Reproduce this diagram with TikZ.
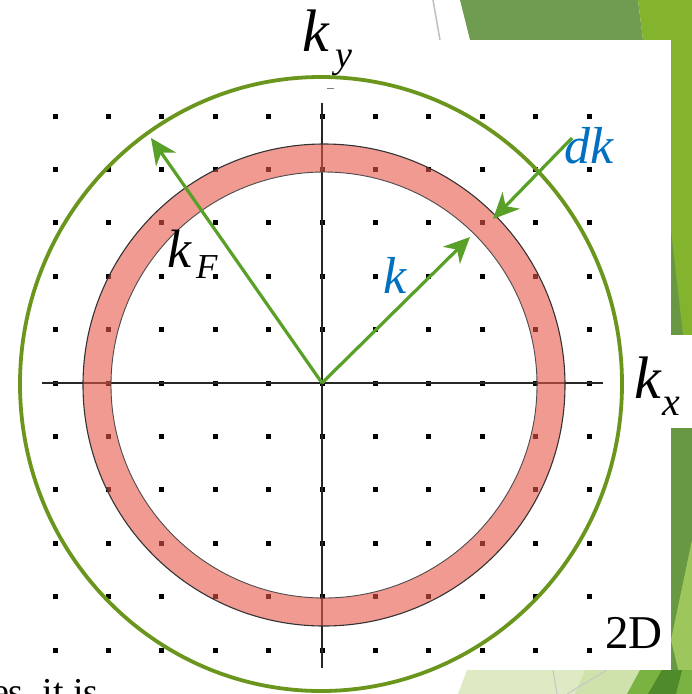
\documentclass[tikz,border=0pt]{standalone}
\usepackage{fontspec}
\setmainfont{Liberation Serif}
\usetikzlibrary{arrows.meta}
\definecolor{circG}{RGB}{106,150,30}
\definecolor{arrG}{RGB}{88,160,40}
\definecolor{blueT}{RGB}{0,112,192}
\definecolor{ringR}{RGB}{230,88,72}
\definecolor{bgDark}{RGB}{112,156,82}
\definecolor{bgLight}{RGB}{132,180,46}
\definecolor{bgDark2}{RGB}{104,152,68}
\definecolor{bgMid}{RGB}{157,198,92}
\definecolor{bgPale}{RGB}{221,234,196}
\definecolor{bgPale2}{RGB}{208,226,172}
\definecolor{bgBright}{RGB}{122,179,66}
\definecolor{bgDeep}{RGB}{79,138,43}
\begin{document}
\begin{tikzpicture}[x=1pt,y=-1pt,
  lbl/.style={inner sep=0pt, outer sep=0pt, anchor=base west},
  arr/.style={draw=arrG, line width=3.2pt, -{Stealth[length=26pt,width=24pt,inset=8pt]}},
  dotsq/.style={fill=black}]
\useasboundingbox (0,0) rectangle (692,694);
\clip (0,0) rectangle (692,694);
% background slide
\fill[white] (0,0) rectangle (692,694);
\fill[bgDark] (460,0) -- (638,0) -- (643,40) -- (470,40) -- cycle;
\fill[bgLight] (638,0) -- (692,0) -- (692,40) -- (643,40) -- cycle;
\draw[gray!50, line width=1.5pt] (433,0) -- (440,40);
\fill[bgLight] (671,40) rectangle (692,335);
\fill[bgDark2] (671,230) -- (683,335) -- (671,335) -- cycle;
\fill[bgDark2] (671,428) rectangle (692,694);
\fill[bgMid] (692,540) -- (692,694) -- (684,694) -- (671,640) -- cycle;
\fill[bgPale] (467,670) -- (692,670) -- (692,694) -- (458,694) -- cycle;
\fill[bgPale2] (585,670) -- (640,670) -- (627,694) -- (575,694) -- cycle;
\fill[bgBright] (640,670) -- (692,670) -- (692,694) -- (627,694) -- cycle;
\fill[bgDeep] (662,670) -- (682,670) -- (676,694) -- (648,694) -- cycle;
\draw[gray!45, line width=1pt] (553,670) -- (557,694);
\draw[gray!45, line width=1pt] (567,694) -- (607,670);
% white panel
\fill[white] (0,40) rectangle (671,670);
\fill[white] (620,335) rectangle (692,428);
% dot grid
\foreach \i in {-5,...,5}{
  \foreach \j in {-5,...,5}{
    \fill[dotsq] (322+53.4*\i-2.5,383+53.4*\j-2.5) rectangle ++(5,5);
  }
}
% axes
\coordinate (O) at (322,383);
\coordinate (xl) at (42,383);
\coordinate (xr) at (603,383);
\coordinate (yt) at (322,103);
\coordinate (yb) at (322,668);
\draw[black!85, line width=2pt] (xl) -- (xr);
\draw[black!85, line width=2pt] (yt) -- (yb);
\draw[gray, line width=1pt] (327,88) -- (334,88);
% ring
\coordinate (RC) at (324,385);
\fill[ringR, fill opacity=0.6, even odd rule] (RC) circle[radius=241pt] (RC) circle[radius=213pt];
\draw[black!80, line width=1.1pt] (RC) circle[radius=241pt];
\draw[black!70, line width=0.9pt] (RC) circle[radius=213pt];
% big circle
\draw[circG, line width=3.8pt] (321,384) ellipse[x radius=301pt, y radius=307pt];
% arrows
\coordinate (kFtip) at (151,138);
\coordinate (ktip) at (470,237);
\coordinate (dkstart) at (572,138);
\coordinate (dktip) at (493,219);
\draw[arr] (O) -- (kFtip);
\draw[arr] (O) -- (ktip);
\draw[arr] (dkstart) -- (dktip);
% labels
\node[lbl, font=\fontsize{60}{60}\selectfont] (kyk) at (302,51) {\textit{k}};
\node[lbl, font=\fontsize{38}{38}\selectfont] (kys) at (335,67) {\textit{y}};
\node[lbl, font=\fontsize{60}{60}\selectfont] (kxk) at (634,398) {\textit{k}};
\node[lbl, font=\fontsize{40}{40}\selectfont] (kxs) at (662,415) {\textit{x}};
\node[lbl, font=\fontsize{54}{54}\selectfont] (kFk) at (167,267) {\textit{k}};
\node[lbl, font=\fontsize{35}{35}\selectfont] (kFs) at (196,278) {\textit{F}};
\node[lbl, font=\fontsize{52}{52}\selectfont, text=blueT] (kl) at (383,293) {\textit{k}};
\node[lbl, font=\fontsize{52}{52}\selectfont, text=blueT] (dkl) at (564,163) {\textit{dk}};
\node[lbl, font=\fontsize{47}{47}\selectfont] (twoD) at (605,648) {2D};
\node[lbl, font=\fontsize{38}{38}\selectfont] (btxt) at (-8,704) {es, it is};
\end{tikzpicture}
\end{document}
